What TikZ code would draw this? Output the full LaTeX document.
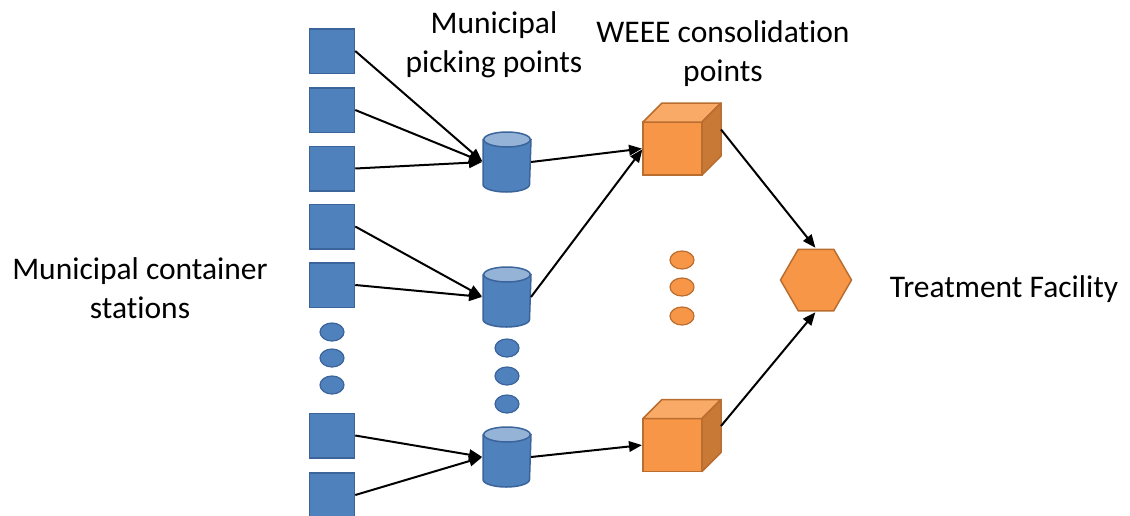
\documentclass[tikz,border=0pt]{standalone}
\usepackage{fontspec}
\setmainfont{Carlito}[Ligatures=NoCommon]
\usetikzlibrary{shapes.geometric,arrows.meta}

\definecolor{boxblue}{HTML}{4F81BD}
\definecolor{boxblueline}{HTML}{3A649A}
\definecolor{topblue}{HTML}{95B3D7}
\definecolor{boxorange}{HTML}{F79646}
\definecolor{boxorangeline}{HTML}{B96E30}
\definecolor{toporange}{HTML}{F9AA66}
\definecolor{sideorange}{HTML}{C97936}

\tikzset{
    station/.style={draw=boxblueline, fill=boxblue, line width=1.5pt, inner sep=0pt,
        minimum width=45pt, minimum height=44.5pt},
    bluedot/.style={ellipse, draw=boxblueline, fill=boxblue, line width=1.2pt, inner sep=0pt,
        minimum width=24pt, minimum height=18pt},
    orangedot/.style={ellipse, draw=boxorangeline, fill=boxorange, line width=1.2pt, inner sep=0pt,
        minimum width=24pt, minimum height=18pt},
    picking/.style={inner sep=0pt, outer sep=0.75pt, minimum width=46.5pt, minimum height=58.5pt},
    tank/.style={fill=boxblue, draw=boxblueline, line width=1.5pt},
    tanktop/.style={fill=topblue, draw=boxblueline, line width=1.5pt},
    front/.style={draw=boxorangeline, fill=boxorange, line width=1.5pt, inner sep=0pt, outer sep=0pt,
        minimum width=59pt, minimum height=53pt},
    cubetop/.style={fill=toporange, draw=boxorangeline, line width=1.5pt, line join=round},
    cubeside/.style={fill=sideorange, draw=boxorangeline, line width=1.5pt, line join=round},
    facility/.style={regular polygon, regular polygon sides=6, draw=boxorangeline, fill=boxorange,
        line width=1.5pt, inner sep=0pt, minimum size=71pt},
    flow/.style={-{Triangle[length=13pt,width=10.5pt]}, line width=2pt, shorten >=1pt},
    label/.style={font=\fontsize{31.5}{38.5}\selectfont, align=center, inner sep=0pt}
}

\begin{document}
\begin{tikzpicture}[x=1pt, y=-1pt]
    \useasboundingbox (0,0) rectangle (1130,515);

    \node[station] (s1) at (332,51) {};
    \node[station] (s2) at (332,110) {};
    \node[station] (s3) at (332,168.5) {};
    \node[station] (s4) at (332,226.5) {};
    \node[station] (s5) at (332,285) {};
    \node[station] (s6) at (332,435.5) {};
    \node[station] (s7) at (332,495) {};

    \node[bluedot] (sd1) at (332,332) {};
    \node[bluedot] (sd2) at (332,358) {};
    \node[bluedot] (sd3) at (332,385) {};

    \node[picking] (p1) at (507,162) {};
    \filldraw[tank] ([yshift=-7.5pt]p1.north west) -- ([yshift=7.5pt]p1.south west)
        arc[start angle=180, end angle=360, x radius=23.25pt, y radius=7.5pt]
        -- ([yshift=-7.5pt]p1.north east) -- cycle;
    \filldraw[tanktop] ([yshift=-7.5pt]p1.north) ellipse[x radius=23.25pt, y radius=7.5pt];

    \node[picking] (p2) at (507,297) {};
    \filldraw[tank] ([yshift=-7.5pt]p2.north west) -- ([yshift=7.5pt]p2.south west)
        arc[start angle=180, end angle=360, x radius=23.25pt, y radius=7.5pt]
        -- ([yshift=-7.5pt]p2.north east) -- cycle;
    \filldraw[tanktop] ([yshift=-7.5pt]p2.north) ellipse[x radius=23.25pt, y radius=7.5pt];

    \node[picking] (p3) at (507,457) {};
    \filldraw[tank] ([yshift=-7.5pt]p3.north west) -- ([yshift=7.5pt]p3.south west)
        arc[start angle=180, end angle=360, x radius=23.25pt, y radius=7.5pt]
        -- ([yshift=-7.5pt]p3.north east) -- cycle;
    \filldraw[tanktop] ([yshift=-7.5pt]p3.north) ellipse[x radius=23.25pt, y radius=7.5pt];

    \node[bluedot] (pd1) at (507,348) {};
    \node[bluedot] (pd2) at (507,376) {};
    \node[bluedot] (pd3) at (507,404) {};

    \node[front] (c1) at (672.5,148.5) {};
    \filldraw[cubetop] (c1.north west) -- ++(19,-19) -- ++(59,0) -- (c1.north east) -- cycle;
    \filldraw[cubeside] (c1.north east) -- ++(19,-19) -- ++(0,53) -- (c1.south east) -- cycle;

    \node[front] (c2) at (672.5,445) {};
    \filldraw[cubetop] (c2.north west) -- ++(19,-19) -- ++(59,0) -- (c2.north east) -- cycle;
    \filldraw[cubeside] (c2.north east) -- ++(19,-19) -- ++(0,53) -- (c2.south east) -- cycle;

    \node[orangedot] (cd1) at (682,260) {};
    \node[orangedot] (cd2) at (682,287) {};
    \node[orangedot] (cd3) at (682,316) {};

    \node[facility] (tf) at (816,280) {};

    \coordinate (c1out) at ([shift={(19,-19)}]c1.east);
    \coordinate (c2out) at ([shift={(19,-19)}]c2.east);

    \draw[flow] (s1.east) -- (p1.west);
    \draw[flow] (s2.east) -- (p1.west);
    \draw[flow] (s3.east) -- (p1.west);
    \draw[flow] (s4.east) -- (p2.west);
    \draw[flow] (s5.east) -- (p2.west);
    \draw[flow] (s6.east) -- (p3.west);
    \draw[flow] (s7.east) -- (p3.west);

    \draw[flow] (p1.east) -- (c1.west);
    \draw[flow] (p2.east) -- (c1.west);
    \draw[flow] (p3.east) -- (c2.west);

    \draw[flow] (c1out) -- (tf.north);
    \draw[flow] (c2out) -- (tf.south);

    \node[label, anchor=base] (lstations) at (140,318) {Municipal container\\stations};
    \node[label, anchor=base] (lpicking) at (494,72) {Municipal\\picking points};
    \node[label, anchor=base] (lweee) at (723,81) {WEEE consolidation\\points};
    \node[label, anchor=base] (lfacility) at (1004,297) {Treatment Facility};
\end{tikzpicture}
\end{document}
